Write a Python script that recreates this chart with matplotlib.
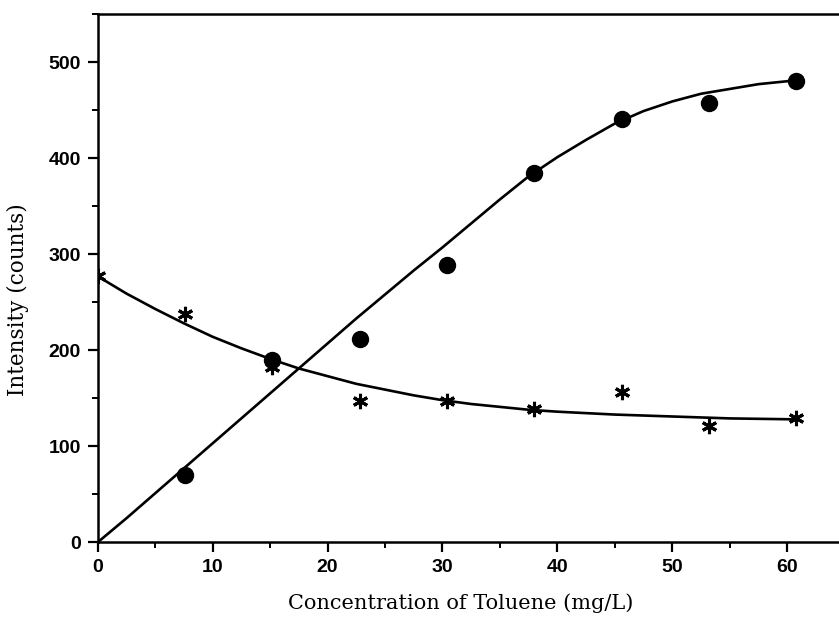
import numpy as np
import matplotlib
matplotlib.use("Agg")
import matplotlib.pyplot as plt
from matplotlib.ticker import MultipleLocator

# concentration of toluene (mg/L)
conc = [7.6, 15.2, 22.8, 30.4, 38.0, 45.6, 53.2, 60.8]
circle_vals = [70, 190, 212, 289, 385, 441, 457, 480]

star_conc = [0.0, 7.6, 15.2, 22.8, 30.4, 38.0, 45.6, 53.2, 60.8]
star_vals = [277, 238, 183, 147, 147, 139, 157, 121, 129]

# fitted curves
fit1_x = [0, 2.5, 5, 7.5, 10, 12.5, 15, 17.5, 20, 22.5, 25, 27.5, 30, 32.5, 35,
          37.5, 40, 42.5, 45, 47.5, 50, 52.5, 55, 57.5, 60.8]
fit1_y = [0, 25, 51, 77, 103, 129, 155, 181, 207, 233, 258, 283, 307, 332, 357,
          381, 401, 419, 436, 449, 459, 467, 472, 477, 481]

fit2_x = [0, 2.5, 5, 7.5, 10, 12.5, 15, 17.5, 20, 22.5, 25, 27.5, 30, 32.5, 35,
          37.5, 40, 45, 50, 55, 60.8]
fit2_y = [277, 259, 243, 228, 214, 202, 191, 181, 173, 165, 159, 153, 148, 144,
          141, 138, 136, 133, 131, 129, 128]

fig = plt.figure(figsize=(8.39, 6.23), dpi=100)
ax = fig.add_axes([0.1164, 0.1295, 0.8836, 0.848])

ax.plot(fit1_x, fit1_y, color="black", lw=1.9, solid_joinstyle="round")
ax.plot(fit2_x, fit2_y, color="black", lw=1.9, solid_joinstyle="round")
ax.plot(conc, circle_vals, "o", color="black", ms=11.5, ls="none")
ax.plot(star_conc, star_vals, marker=(6, 2, 0), color="black", ms=11,
        mew=2.2, ls="none")

ax.set_xlim(0, 64.5)
ax.set_ylim(0, 550)
ax.xaxis.set_major_locator(MultipleLocator(10))
ax.xaxis.set_minor_locator(MultipleLocator(5))
ax.yaxis.set_major_locator(MultipleLocator(100))
ax.yaxis.set_minor_locator(MultipleLocator(50))

ax.spines["right"].set_visible(False)
for s in ["left", "bottom", "top"]:
    ax.spines[s].set_linewidth(1.8)

ax.tick_params(which="major", direction="out", length=7, width=1.6,
               labelsize=14, pad=5)
ax.tick_params(which="minor", direction="out", length=4, width=1.4)
for lab in ax.get_xticklabels() + ax.get_yticklabels():
    lab.set_family("Liberation Sans")
    lab.set_weight("bold")

ax.set_xlabel("Concentration of Toluene (mg/L)", family="DejaVu Serif",
              fontsize=15)
ax.set_ylabel("Intensity (counts)", family="DejaVu Serif", fontsize=15.5)
ax.xaxis.set_label_coords(0.49, -0.097)
ax.yaxis.set_label_coords(-0.092, 0.46)

fig.savefig("out.png", dpi=100)
